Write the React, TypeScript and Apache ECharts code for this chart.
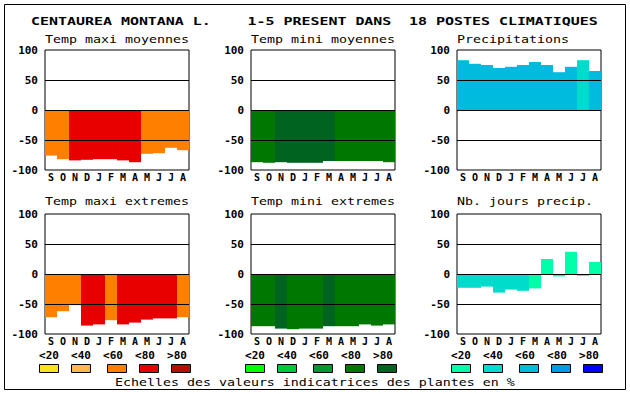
import React, { useEffect, useRef } from 'react';
import * as echarts from 'echarts';

const titleParts = ['CENTAUREA MONTANA L.', '1-5 PRESENT DANS', '18 POSTES CLIMATIQUES'];
const months = ['S', 'O', 'N', 'D', 'J', 'F', 'M', 'A', 'M', 'J', 'J', 'A'];
const classLabels = ['<20', '<40', '<60', '<80', '>80'];
const caption = 'Echelles des valeurs indicatrices des plantes en %';

const panelTitles = [
  'Temp maxi moyennes',
  'Temp mini moyennes',
  'Precipitations',
  'Temp maxi extremes',
  'Temp mini extremes',
  'Nb. jours precip.',
];

const warmPalette = ['#F8E41C', '#FFB84C', '#FF8000', '#E80000', '#B01000'];
const greenPalette = ['#00FF00', '#00C838', '#009830', '#007800', '#006420'];
const bluePalette = ['#00FFA8', '#00DCCC', '#00BBDD', '#0098E8', '#0000FF'];

const maxiMoyValues = [-76, -82, -84, -83, -82, -82, -84, -87, -73, -72, -63, -67];
const maxiMoyClasses = [2, 2, 3, 3, 3, 3, 3, 3, 2, 2, 2, 2];

const miniMoyValues = [-87, -88, -87, -88, -88, -88, -85, -85, -85, -85, -85, -87];
const miniMoyClasses = [3, 3, 4, 4, 4, 4, 4, 3, 3, 3, 3, 3];

const precipValues = [83, 77, 75, 70, 72, 75, 80, 75, 63, 72, 83, 65];
const precipClasses = [2, 2, 2, 2, 2, 2, 2, 2, 2, 2, 1, 2];

const maxiExtValues = [-72, -62, -52, -86, -84, -77, -84, -81, -76, -74, -74, -72];
const maxiExtClasses = [2, 2, 2, 3, 3, 2, 3, 3, 3, 3, 3, 2];

const miniExtValues = [-87, -87, -91, -92, -91, -91, -87, -87, -87, -84, -86, -84];
const miniExtClasses = [3, 3, 4, 3, 3, 3, 4, 3, 3, 3, 3, 3];

const joursValues = [-23, -23, -21, -31, -26, -28, -24, 25, -4, 37, -3, 20];
const joursClasses = [1, 1, 1, 1, 1, 1, 0, 0, 0, 0, 0, 0];

const panels = [
  { values: maxiMoyValues, classes: maxiMoyClasses, palette: warmPalette },
  { values: miniMoyValues, classes: miniMoyClasses, palette: greenPalette },
  { values: precipValues, classes: precipClasses, palette: bluePalette },
  { values: maxiExtValues, classes: maxiExtClasses, palette: warmPalette },
  { values: miniExtValues, classes: miniExtClasses, palette: greenPalette },
  { values: joursValues, classes: joursClasses, palette: bluePalette },
];
const palettesRow = [warmPalette, greenPalette, bluePalette];

const MONO = '"DejaVu Sans Mono", monospace';

function scaledText(text: string, x: number, y: number, size: number, bold: boolean, advance: number, align = 'left') {
  return {
    type: 'text',
    x,
    y,
    scaleX: advance / (size * 0.602),
    silent: true,
    style: {
      text,
      fontSize: size,
      fontFamily: MONO,
      fontWeight: bold ? 'bold' : 'normal',
      fill: '#000',
      align,
      textAlign: align,
      verticalAlign: 'middle',
      textVerticalAlign: 'middle',
    },
  };
}

export default function App() {
  const ref = useRef<HTMLDivElement>(null);

  useEffect(() => {
    if (!ref.current) return;
    const chart = echarts.init(ref.current, undefined, { renderer: 'svg' });

    const lefts = [45, 251, 457];
    const tops = [50, 214];
    const W = 144;
    const H = 120;

    const grids: any[] = [];
    const xAxes: any[] = [];
    const yAxes: any[] = [];
    const series: any[] = [];

    panels.forEach((p, i) => {
      const col = i % 3;
      const row = Math.floor(i / 3);
      grids.push({
        left: lefts[col],
        top: tops[row],
        width: W,
        height: H,
        show: true,
        borderColor: '#000',
        borderWidth: 1,
        backgroundColor: '#fff',
      });
      xAxes.push({
        type: 'category',
        gridIndex: i,
        data: months,
        boundaryGap: true,
        axisLine: { show: false },
        axisTick: { show: false },
        splitLine: { show: false },
        axisLabel: {
          interval: 0,
          margin: 2,
          color: '#000',
          fontFamily: MONO,
          fontWeight: 'bold',
          fontSize: 10,
        },
      });
      yAxes.push({
        type: 'value',
        gridIndex: i,
        min: -100,
        max: 100,
        interval: 50,
        axisLine: { show: false },
        axisTick: { show: false },
        splitLine: { show: false },
        axisLabel: {
          margin: 7,
          color: '#000',
          fontFamily: MONO,
          fontWeight: 'bold',
          fontSize: 11,
          showMinLabel: true,
          showMaxLabel: true,
        },
      });
      series.push({
        type: 'bar',
        xAxisIndex: i,
        yAxisIndex: i,
        barWidth: 12,
        barCategoryGap: '0%',
        silent: true,
        data: p.values.map((v, k) => ({
          value: v,
          itemStyle: { color: p.palette[p.classes[k]] },
        })),
        markLine: {
          silent: true,
          symbol: ['none', 'none'],
          label: { show: false },
          lineStyle: { color: '#000', type: 'solid', width: 1 },
          emphasis: { disabled: true },
          data: [{ yAxis: 50 }, { yAxis: 0 }, { yAxis: -50 }],
        },
      });
    });

    const graphics: any[] = [];
    graphics.push({
      type: 'rect',
      silent: true,
      shape: { x: 4.5, y: 4.5, width: 621, height: 385 },
      style: { fill: 'none', stroke: '#000', lineWidth: 1 },
    });
    const titleX = [31, 247.5, 409];
    titleParts.forEach((t, k) => graphics.push(scaledText(t, titleX[k], 21, 11, true, 9)));

    panelTitles.forEach((t, i) => {
      const col = i % 3;
      const row = Math.floor(i / 3);
      graphics.push(scaledText(t, lefts[col], row === 0 ? 39 : 201, 11, false, 8));
    });

    const labelOffsets = [4, 36, 68, 100, 132];
    const boxOffsets = [-5.5, 26.5, 62.5, 94.5, 126.5];
    lefts.forEach((L, col) => {
      classLabels.forEach((lab, k) => {
        graphics.push({
          type: 'text',
          x: L + labelOffsets[k],
          y: 355,
          silent: true,
          style: {
            text: lab,
            fontSize: 11,
            fontFamily: MONO,
            fontWeight: 'bold',
            fill: '#000',
            align: 'center',
            textAlign: 'center',
            verticalAlign: 'middle',
            textVerticalAlign: 'middle',
          },
        });
        graphics.push({
          type: 'rect',
          silent: true,
          shape: { x: L + boxOffsets[k], y: 364.5, width: 19, height: 8 },
          style: { fill: palettesRow[col][k], stroke: '#000', lineWidth: 1 },
        });
      });
    });
    graphics.push(scaledText(caption, 115, 382, 11, false, 8));

    chart.setOption({
      animation: false,
      backgroundColor: '#fff',
      grid: grids,
      xAxis: xAxes,
      yAxis: yAxes,
      series,
      graphic: { elements: graphics },
    });

    return () => chart.dispose();
  }, []);

  return (
    <div
      ref={ref}
      style={{ position: 'absolute', left: 0, top: 0, width: 630, height: 394, background: '#fff' }}
    />
  );
}
